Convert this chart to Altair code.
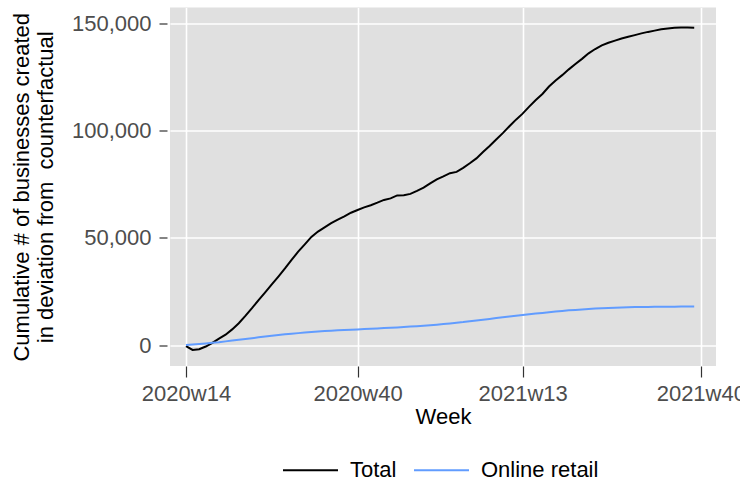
import altair as alt
import pandas as pd

# week index 0 = 2020w14 ... 77 = 2021w39
week_index = list(range(78))

total = [-0.5, -2.3, -2.0, -0.7, 1.0, 3.0, 4.8, 7.3, 10.2, 13.6,
         17.2, 21.0, 24.6, 28.3, 32.0, 35.8, 39.8, 43.6, 47.0, 50.5,
         53.0, 55.0, 56.9, 58.6, 60.1, 61.8, 63.1, 64.3, 65.3, 66.5,
         67.8, 68.5, 69.9, 70.0, 70.6, 72.0, 73.5, 75.5, 77.4, 78.8,
         80.3, 80.9, 82.8, 84.9, 87.2, 90.2, 93.0, 96.0, 99.0, 102.2,
         105.3, 108.1, 111.4, 114.5, 117.3, 120.8, 123.6, 126.1, 128.8, 131.3,
         133.7, 136.3, 138.3, 140.0, 141.2, 142.2, 143.2, 144.0, 144.8, 145.6,
         146.3, 146.9, 147.5, 147.9, 148.2, 148.4, 148.3, 148.2]

online = [0.0, 0.2, 0.45, 0.7, 1.0, 1.3, 1.7, 2.1, 2.5, 2.85,
          3.2, 3.6, 4.0, 4.35, 4.7, 5.0, 5.3, 5.55, 5.8, 6.05,
          6.3, 6.5, 6.7, 6.85, 7.0, 7.15, 7.3, 7.45, 7.6, 7.75,
          7.9, 8.05, 8.2, 8.4, 8.6, 8.8, 9.0, 9.25, 9.5, 9.8,
          10.1, 10.4, 10.7, 11.1, 11.5, 11.85, 12.2, 12.6, 13.0, 13.35,
          13.7, 14.05, 14.4, 14.7, 15.0, 15.3, 15.6, 15.9, 16.2, 16.4,
          16.6, 16.8, 17.0, 17.15, 17.3, 17.4, 17.5, 17.6, 17.7, 17.75,
          17.8, 17.85, 17.9, 17.9, 17.9, 17.95, 18.0, 18.0]

series_names = ["Total", "Online retail"]
series_colors = ["#000000", "#619CFF"]

tick_values = [0, 26, 51, 78]
tick_labels = ["2020w14", "2020w40", "2021w13", "2021w40"]

rows = []
for i, v in zip(week_index, total):
    rows.append({"week": i, "value": v * 1000, "series": "Total", "order": 0})
for i, v in zip(week_index, online):
    rows.append({"week": i, "value": v * 1000, "series": "Online retail", "order": 1})
df = pd.DataFrame(rows)

label_expr = " : ".join(
    f"datum.value == {v} ? '{l}'" for v, l in zip(tick_values, tick_labels)
) + " : ''"

FONT = "Liberation Sans"

chart = (
    alt.Chart(df)
    .mark_line(strokeWidth=2, clip=True)
    .encode(
        x=alt.X(
            "week:Q",
            scale=alt.Scale(domain=[-2.42, 80.3], nice=False, zero=False),
            axis=alt.Axis(
                values=tick_values,
                labelExpr=label_expr,
                title="Week",
                grid=True,
                tickSize=11,
                offset=0,
                labelPadding=6,
                titlePadding=2,
            ),
        ),
        y=alt.Y(
            "value:Q",
            scale=alt.Scale(domain=[-9810, 157700], nice=False, zero=False),
            axis=alt.Axis(
                values=[0, 50000, 100000, 150000],
                format=",.0f",
                title=["Cumulative # of businesses created", "in deviation from\u00a0 counterfactual"],
                grid=True,
                tickSize=8,
                offset=3,
                labelPadding=8,
                titlePadding=14,
            ),
        ),
        color=alt.Color(
            "series:N",
            scale=alt.Scale(domain=series_names, range=series_colors),
            sort=series_names,
            legend=alt.Legend(
                title=None,
                orient="none",
                direction="horizontal",
                legendX=112,
                legendY=434,
                symbolType="stroke",
                symbolSize=3025,
                symbolStrokeWidth=2,
                labelFontSize=22,
                labelFont=FONT,
                labelColor="#000000",
                labelOffset=11,
                columnPadding=13,
            ),
        ),
        order=alt.Order("order:Q"),
        detail="series:N",
    )
    .properties(
        width=546,
        height=358.5,
        padding={"left": 170, "top": 7.5, "right": 24, "bottom": 117},
        autosize=alt.AutoSizeParams(type="none"),
        background="#FFFFFF",
    )
    .configure_view(fill="#E0E0E0", stroke=None)
    .configure_axis(
        labelFont=FONT,
        titleFont=FONT,
        labelFontSize=22,
        titleFontSize=22,
        labelColor="#4D4D4D",
        titleColor="#000000",
        titleFontWeight="normal",
        gridColor="#FFFFFF",
        gridWidth=1.6,
        domain=False,
        tickColor="#333333",
        tickWidth=1.2,
    )
)

chart.save("out.html", embed_options={"renderer": "svg", "actions": False})
